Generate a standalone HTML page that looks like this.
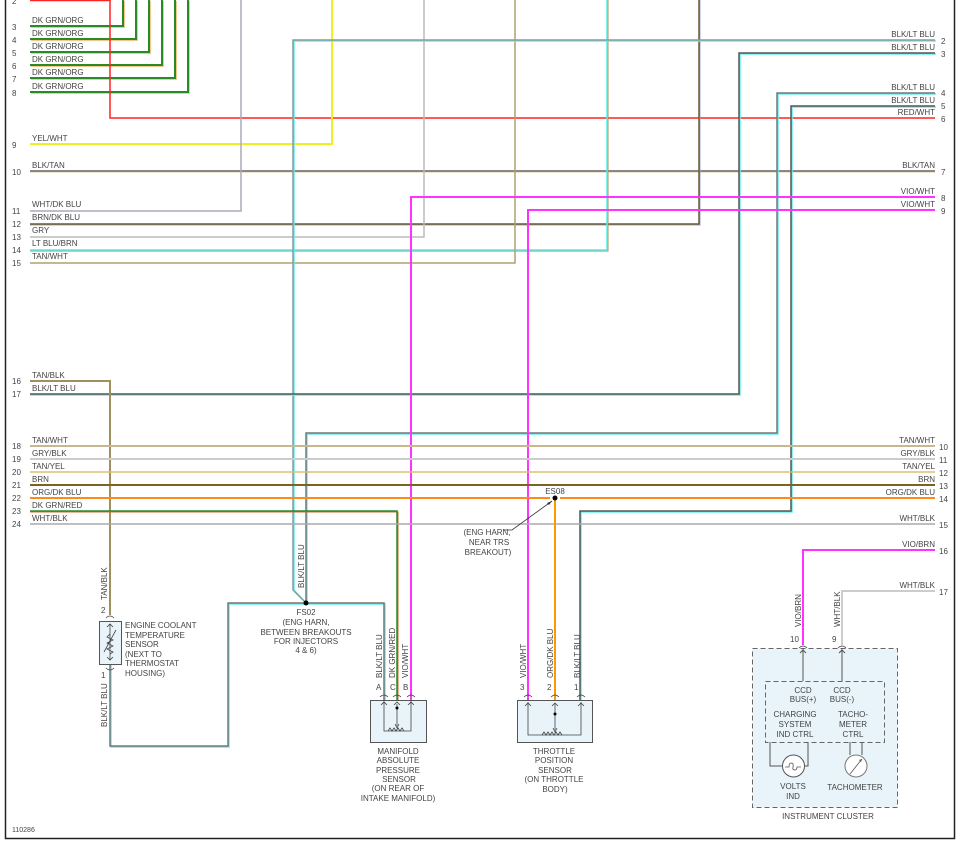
<!DOCTYPE html>
<html><head><meta charset="utf-8"><style>
body{margin:0;background:#fff}
svg{display:block}
text{font-family:"Liberation Sans",sans-serif;font-size:8px;fill:#444}
</style></head><body>
<svg width="958" height="843" viewBox="0 0 958 843" xmlns="http://www.w3.org/2000/svg" fill="none">
<path d="M5.5 0V838.5H954.5V0" stroke="#222" stroke-width="1.5"/>

<g stroke-width="2">
<path d="M30 26H123V0" stroke="#f5c88a" transform="translate(1,1)"/><path d="M30 26H123V0" stroke="#2a8a2a"/>
<path d="M30 39H136V0" stroke="#f5c88a" transform="translate(1,1)"/><path d="M30 39H136V0" stroke="#2a8a2a"/>
<path d="M30 52H149V0" stroke="#f5c88a" transform="translate(1,1)"/><path d="M30 52H149V0" stroke="#2a8a2a"/>
<path d="M30 65H162V0" stroke="#f5c88a" transform="translate(1,1)"/><path d="M30 65H162V0" stroke="#2a8a2a"/>
<path d="M30 78H175V0" stroke="#f5c88a" transform="translate(1,1)"/><path d="M30 78H175V0" stroke="#2a8a2a"/>
<path d="M30 92H188V0" stroke="#f5c88a" transform="translate(1,1)"/><path d="M30 92H188V0" stroke="#2a8a2a"/>
</g>
<path d="M30 0.5H110V118H935" stroke="#f22" stroke-width="1.5"/>
<path d="M30 144H332V0" stroke="#f0f020" stroke-width="2"/>
<path d="M30 172H935" stroke="#eee4cc" stroke-width="2"/><path d="M30 171H935" stroke="#888" stroke-width="2"/>
<path d="M30 211H241V0" stroke="#aab" stroke-width="1.5"/>
<path d="M30 225H700V0" stroke="#99a8cc" stroke-width="1"/><path d="M30 224H699V0" stroke="#6a5a30" stroke-width="1.5"/>
<path d="M30 237H424V0" stroke="#bbb" stroke-width="1.5"/>
<path d="M30 251H608V0" stroke="#a89060" stroke-width="1"/><path d="M30 250H607V0" stroke="#5ee" stroke-width="1.5"/>
<path d="M30 263H515V0" stroke="#b0a070" stroke-width="1.5"/>

<g stroke-width="1.5">
<path d="M936 41H294V590L307 604" stroke="#6ee" /><path d="M935 40H293V590L306 603" stroke="#8a9a9a"/>
<path d="M936 54H740V395H30" stroke="#6ee"/><path d="M935 53H739V394H30" stroke="#555"/>
<path d="M936 94H778V434H307V603" stroke="#6ee"/><path d="M935 93H777V433H306V603" stroke="#777"/>
<path d="M936 107H792V512H581V700" stroke="#6ee"/><path d="M935 106H791V511H580V700" stroke="#555"/>
<path d="M111 665V747H229V604H385V700" stroke="#6ee"/><path d="M110 665V746H228V603H384V700" stroke="#777"/>
</g>
<path d="M935 197H411V700" stroke="#f3f" stroke-width="2"/>
<path d="M935 210H528V700" stroke="#f3f" stroke-width="2"/>
<path d="M30 381H110V615" stroke="#a09060" stroke-width="2"/>
<path d="M30 446H935" stroke="#c8b890" stroke-width="2"/>
<path d="M30 459H935" stroke="#ccc" stroke-width="2"/>
<path d="M30 472H935" stroke="#d8c070" stroke-width="1.5"/>
<path d="M30 485H935" stroke="#7a6420" stroke-width="2"/>
<path d="M30 498H550M560 498H935" stroke="#ff8a1a" stroke-width="2"/>
<path d="M30 512H398V700" stroke="#c87030" stroke-width="1"/><path d="M30 511H397V700" stroke="#2a8a2a" stroke-width="1.5"/>
<path d="M30 524H935" stroke="#aaa" stroke-width="1.5"/>
<path d="M555 498V700" stroke="#f90" stroke-width="2"/>
<path d="M935 550H803V645" stroke="#f3f" stroke-width="2"/>
<path d="M935 591H842V645" stroke="#ccc" stroke-width="2"/>

<circle cx="306" cy="603" r="2.5" fill="#000"/>
<circle cx="555" cy="498" r="2.5" fill="#000"/>
<path d="M503 530H512L552 501" stroke="#333" stroke-width="0.8"/>
<path d="M552 501l-5 2l2 2z" fill="#333"/>

<g>
<text x="12" y="4">2</text>
<text x="12" y="30">3</text><text x="32" y="23">DK GRN/ORG</text>
<text x="12" y="43">4</text><text x="32" y="36">DK GRN/ORG</text>
<text x="12" y="56">5</text><text x="32" y="49">DK GRN/ORG</text>
<text x="12" y="69">6</text><text x="32" y="62">DK GRN/ORG</text>
<text x="12" y="82">7</text><text x="32" y="75">DK GRN/ORG</text>
<text x="12" y="96">8</text><text x="32" y="89">DK GRN/ORG</text>
<text x="12" y="148">9</text><text x="32" y="141">YEL/WHT</text>
<text x="12" y="175">10</text><text x="32" y="168">BLK/TAN</text>
<text x="12" y="214">11</text><text x="32" y="207">WHT/DK BLU</text>
<text x="12" y="227">12</text><text x="32" y="220">BRN/DK BLU</text>
<text x="12" y="240">13</text><text x="32" y="233">GRY</text>
<text x="12" y="253">14</text><text x="32" y="246">LT BLU/BRN</text>
<text x="12" y="266">15</text><text x="32" y="259">TAN/WHT</text>
<text x="12" y="384">16</text><text x="32" y="378">TAN/BLK</text>
<text x="12" y="397">17</text><text x="32" y="391">BLK/LT BLU</text>
<text x="12" y="449">18</text><text x="32" y="443">TAN/WHT</text>
<text x="12" y="462">19</text><text x="32" y="456">GRY/BLK</text>
<text x="12" y="475">20</text><text x="32" y="469">TAN/YEL</text>
<text x="12" y="488">21</text><text x="32" y="482">BRN</text>
<text x="12" y="501">22</text><text x="32" y="495">ORG/DK BLU</text>
<text x="12" y="514">23</text><text x="32" y="508">DK GRN/RED</text>
<text x="12" y="527">24</text><text x="32" y="521">WHT/BLK</text>
</g>
<g text-anchor="end">
<text x="935" y="37">BLK/LT BLU</text><text x="935" y="50">BLK/LT BLU</text>
<text x="935" y="90">BLK/LT BLU</text><text x="935" y="103">BLK/LT BLU</text>
<text x="935" y="115">RED/WHT</text><text x="935" y="168">BLK/TAN</text>
<text x="935" y="194">VIO/WHT</text><text x="935" y="207">VIO/WHT</text>
<text x="935" y="443">TAN/WHT</text><text x="935" y="456">GRY/BLK</text>
<text x="935" y="469">TAN/YEL</text><text x="935" y="482">BRN</text>
<text x="935" y="495">ORG/DK BLU</text><text x="935" y="521">WHT/BLK</text>
<text x="935" y="547">VIO/BRN</text><text x="935" y="588">WHT/BLK</text>
</g>
<g>
<text x="941" y="44">2</text><text x="941" y="57">3</text><text x="941" y="96">4</text><text x="941" y="109">5</text>
<text x="941" y="122">6</text><text x="941" y="175">7</text><text x="941" y="201">8</text><text x="941" y="214">9</text>
<text x="939" y="450">10</text><text x="939" y="463">11</text><text x="939" y="476">12</text><text x="939" y="489">13</text>
<text x="939" y="502">14</text><text x="939" y="528">15</text><text x="939" y="554">16</text><text x="939" y="595">17</text>
</g>

<text x="555" y="494" text-anchor="middle">ES08</text>
<g text-anchor="middle"><text x="487" y="535">(ENG HARN,</text><text x="489" y="545">NEAR TRS</text><text x="488" y="555">BREAKOUT)</text></g>
<g text-anchor="middle"><text x="306" y="615">FS02</text><text x="306" y="625">(ENG HARN,</text><text x="306" y="635">BETWEEN BREAKOUTS</text><text x="306" y="644">FOR INJECTORS</text><text x="306" y="653">4 &amp; 6)</text></g>

<g>
<text transform="translate(304,588) rotate(-90)">BLK/LT BLU</text>
<text transform="translate(107,600) rotate(-90)">TAN/BLK</text>
<text transform="translate(107,727) rotate(-90)">BLK/LT BLU</text>
<text transform="translate(382,678) rotate(-90)">BLK/LT BLU</text>
<text transform="translate(395,678) rotate(-90)">DK GRN/RED</text>
<text transform="translate(408,678) rotate(-90)">VIO/WHT</text>
<text transform="translate(526,678) rotate(-90)">VIO/WHT</text>
<text transform="translate(553,678) rotate(-90)">ORG/DK BLU</text>
<text transform="translate(580,678) rotate(-90)">BLK/LT BLU</text>
<text transform="translate(801,627) rotate(-90)">VIO/BRN</text>
<text transform="translate(840,627) rotate(-90)">WHT/BLK</text>
</g>

<rect x="99.5" y="621.5" width="22" height="43" fill="#e8f4fa" stroke="#555"/>
<text x="101" y="613">2</text><text x="101" y="678">1</text>
<path d="M106 618q4-4 8 0M106 668q4 4 8 0" stroke="#444" stroke-width="0.8"/>
<path d="M110 624V660M107 627l3-3l3 3M107 657l3 3l3-3M110 634l-3 3l6 3l-6 3l6 3l-6 3l6 3l-3 2M104 652L116 630" stroke="#444" stroke-width="0.8"/>
<g><text x="125" y="628">ENGINE COOLANT</text><text x="125" y="638">TEMPERATURE</text><text x="125" y="647">SENSOR</text><text x="125" y="657">(NEXT TO</text><text x="125" y="666">THERMOSTAT</text><text x="125" y="676">HOUSING)</text></g>

<rect x="370.5" y="700.5" width="56" height="42" fill="#e8f4fa" stroke="#555"/>
<text x="376" y="690">A</text><text x="390" y="690">C</text><text x="403" y="690">B</text>
<path d="M380 697q4-4 8 0M393 697q4-4 8 0M407 697q4-4 8 0" stroke="#444" stroke-width="0.8"/>
<path d="M384 700V731H411V700M381 705l3-3l3 3M408 705l3-3l3 3M394 705l3-3l3 3M397 704V726M395 724l2 4l2-4" stroke="#444" stroke-width="0.8"/>
<path d="M388 731l2-3l2 3l2-3l2 3l2-3l2 3l2-3l2 3" stroke="#444" stroke-width="0.8"/>
<circle cx="397" cy="708" r="1.5" fill="#000"/>
<g text-anchor="middle"><text x="398" y="754">MANIFOLD</text><text x="398" y="763">ABSOLUTE</text><text x="398" y="773">PRESSURE</text><text x="399" y="782">SENSOR</text><text x="398" y="791">(ON REAR OF</text><text x="398" y="801">INTAKE MANIFOLD)</text></g>

<rect x="517.5" y="700.5" width="75" height="42" fill="#e8f4fa" stroke="#555"/>
<text x="520" y="690">3</text><text x="547" y="690">2</text><text x="574" y="690">1</text>
<path d="M524 697q4-4 8 0M551 697q4-4 8 0M577 697q4-4 8 0" stroke="#444" stroke-width="0.8"/>
<path d="M528 702V735H581V702M525 706l3-3l3 3M578 706l3-3l3 3M552 706l3-3l3 3M555 704V730M553 728l2 4l2-4" stroke="#444" stroke-width="0.8"/>
<path d="M542 735l2-3l2 3l2-3l2 3l2-3l2 3l2-3l2 3l2-3l2 3" stroke="#444" stroke-width="0.8"/>
<circle cx="555" cy="714" r="1.5" fill="#000"/>
<g text-anchor="middle"><text x="554" y="754">THROTTLE</text><text x="554" y="763">POSITION</text><text x="555" y="773">SENSOR</text><text x="554" y="782">(ON THROTTLE</text><text x="555" y="792">BODY)</text></g>

<rect x="752.5" y="648.5" width="145" height="159" fill="#e8f4fa" stroke="#666" stroke-dasharray="5,3"/>
<rect x="765.5" y="681.5" width="119" height="61" fill="#e8f4fa" stroke="#666" stroke-dasharray="5,3"/>
<text x="790" y="642">10</text><text x="832" y="642">9</text>
<path d="M799 648q4-4 8 0M838 648q4-4 8 0" stroke="#444" stroke-width="0.8"/>
<path d="M803 648V681M842 648V681M800 653l3-3l3 3M839 653l3-3l3 3" stroke="#555" stroke-width="1"/>
<g text-anchor="middle">
<text x="803" y="693">CCD</text><text x="803" y="702">BUS(+)</text>
<text x="842" y="693">CCD</text><text x="842" y="702">BUS(-)</text>
<text x="795" y="717">CHARGING</text><text x="795" y="727">SYSTEM</text><text x="795" y="737">IND CTRL</text>
<text x="853" y="717">TACHO-</text><text x="853" y="727">METER</text><text x="853" y="737">CTRL</text>
<text x="793" y="789">VOLTS</text><text x="793" y="799">IND</text>
<text x="855" y="790">TACHOMETER</text>
<text x="828" y="819">INSTRUMENT CLUSTER</text>
</g>
<path d="M770 742V766H783M804 766H808V742M850 742V755M862 742V755" stroke="#555" stroke-width="1"/>
<circle cx="793.5" cy="766" r="11" fill="#fff" stroke="#555"/>
<path d="M785 767h4q0-4 2 -4q3 0 2 4q-1 3 2 3q2 0 2-3h4" stroke="#555" stroke-width="0.8"/>
<circle cx="856" cy="766" r="11" fill="#fff" stroke="#777"/>
<path d="M850 774L862 759" stroke="#555" stroke-width="0.8"/><path d="M862 759l-3 1l2 2z" fill="#555"/>

<text x="12" y="832" style="font-size:7px">110286</text>
</svg>
</body></html>
